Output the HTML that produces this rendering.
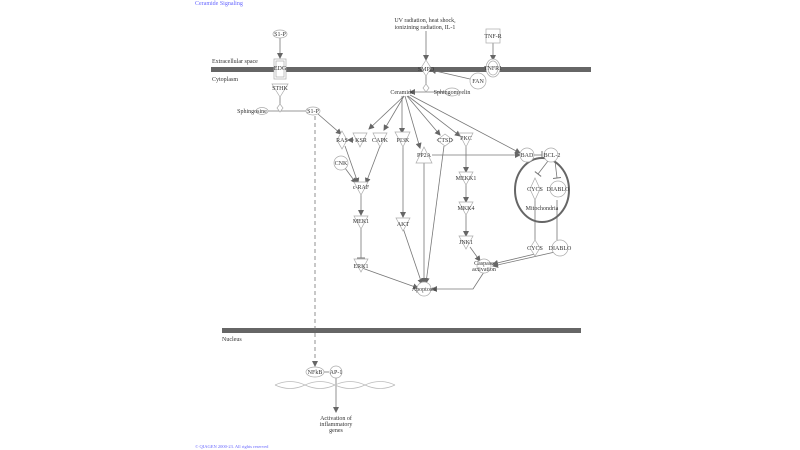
<!DOCTYPE html>
<html><head><meta charset="utf-8"><style>
html,body{margin:0;padding:0;background:#fff;width:800px;height:450px;overflow:hidden}
svg{display:block}
text{font-family:"Liberation Serif",serif;font-size:6px;fill:#333;text-anchor:middle}
</style></head><body>
<svg width="800" height="450" viewBox="0 0 800 450" xmlns="http://www.w3.org/2000/svg">
<defs>
<marker id="a" markerWidth="6" markerHeight="6" refX="5" refY="3" orient="auto" markerUnits="userSpaceOnUse"><path d="M0,0L6,3L0,6z" fill="#666"/></marker>
<marker id="t" markerWidth="2" markerHeight="8" refX="1" refY="4" orient="auto" markerUnits="userSpaceOnUse"><path d="M1,0V8" stroke="#777" stroke-width="1"/></marker>
</defs>
<text x="195" y="5" style="text-anchor:start;fill:#66f;font-size:6px">Ceramide Signaling</text>
<text x="195" y="448" style="text-anchor:start;fill:#66f;font-size:4.5px">© QIAGEN 2000-23. All rights reserved</text>
<rect x="211" y="67" width="380" height="5" fill="#666"/>
<rect x="222" y="328" width="359" height="5" fill="#666"/>
<text x="212" y="63" style="text-anchor:start">Extracellular space</text>
<text x="212" y="81" style="text-anchor:start">Cytoplasm</text>
<text x="222" y="341" style="text-anchor:start">Nucleus</text>
<g stroke="#777" stroke-width="0.8" fill="none">
<line x1="280" y1="38" x2="280" y2="58" marker-end="url(#a)"/>
<line x1="280" y1="95" x2="280" y2="105"/>
<line x1="262" y1="111" x2="306" y2="111"/>
<line x1="318" y1="114" x2="341" y2="134" marker-end="url(#a)"/>
<line x1="315" y1="116" x2="315" y2="366" stroke-dasharray="4,3" marker-end="url(#a)"/>
<line x1="426" y1="31" x2="426" y2="60" marker-end="url(#a)"/>
<line x1="493" y1="43" x2="493" y2="60" marker-end="url(#a)"/>
<line x1="470" y1="79" x2="431" y2="70" marker-end="url(#a)"/>
<line x1="426" y1="76" x2="426" y2="86"/>
<line x1="445" y1="92" x2="410" y2="92" marker-end="url(#a)"/>
<g marker-end="url(#a)">
<line x1="404" y1="96" x2="369" y2="129"/>
<line x1="404" y1="96" x2="384" y2="130"/>
<line x1="402" y1="96" x2="402" y2="133"/>
<line x1="405" y1="96" x2="420" y2="148"/>
<line x1="407" y1="96" x2="440" y2="135"/>
<line x1="408" y1="96" x2="460" y2="136"/>
<line x1="410" y1="95" x2="520" y2="153"/>
<line x1="354" y1="140" x2="348" y2="140"/>
<line x1="345" y1="146" x2="358" y2="183"/>
<line x1="345" y1="168" x2="356" y2="183"/>
<line x1="380" y1="146" x2="366" y2="183"/>
<line x1="361" y1="194" x2="361" y2="215"/>
<line x1="403" y1="146" x2="403" y2="217"/>
<line x1="432" y1="155" x2="520" y2="155"/>
<line x1="466" y1="147" x2="466" y2="172"/>
<line x1="466" y1="183" x2="466" y2="202"/>
<line x1="466" y1="213" x2="466" y2="236"/>
<line x1="470" y1="247" x2="480" y2="261"/>
<line x1="362" y1="268" x2="418" y2="288"/>
<line x1="403" y1="228" x2="422" y2="284"/>
<line x1="424" y1="163" x2="424" y2="283"/>
<line x1="444" y1="146" x2="426" y2="283"/>
<line x1="535" y1="254" x2="493" y2="264"/>
<line x1="555" y1="252" x2="493" y2="266"/>
<line x1="336" y1="378" x2="336" y2="412"/>
</g>
<polyline points="484,272 473,289 432,289" marker-end="url(#a)"/>
<line x1="361" y1="228" x2="361" y2="258" marker-end="url(#t)"/>
<line x1="534" y1="155" x2="542" y2="155" marker-end="url(#t)"/>
<line x1="548" y1="161" x2="538" y2="174" marker-end="url(#t)"/>
<line x1="555" y1="161" x2="557" y2="178" marker-end="url(#t)"/>
<line x1="535" y1="197" x2="535" y2="240"/>
<line x1="557" y1="200" x2="557" y2="240"/>
<line x1="322" y1="372" x2="329" y2="372"/>
</g>
<ellipse cx="542" cy="190" rx="27" ry="32" fill="none" stroke="#666" stroke-width="2"/>
<g stroke="#aaa" stroke-width="0.7" fill="#fff">
<ellipse cx="280" cy="34" rx="7" ry="4"/>
<rect x="274" y="59" width="12" height="20"/><rect x="276" y="61" width="8" height="16"/>
<path d="M272,84H288L280,97z"/>
<path d="M280,104l3,4l-3,4l-3,-4z"/>
<ellipse cx="262" cy="111" rx="6" ry="3.5"/>
<ellipse cx="313" cy="111" rx="7" ry="4"/>
<path d="M426,60l5,8l-5,8l-5,-8z"/>
<path d="M426,84l3,4l-3,4l-3,-4z"/>
<rect x="486" y="29" width="14" height="14"/>
<ellipse cx="493" cy="68" rx="7" ry="9"/><ellipse cx="493" cy="68" rx="5" ry="7"/>
<circle cx="478" cy="81" r="8"/>
<ellipse cx="452" cy="92" rx="7" ry="4"/>
<path d="M342,131l5,9l-5,9l-5,-9z"/>
<path d="M353,133H367L360,147z"/>
<path d="M373,133H387L380,147z"/>
<path d="M395,132H410L403,147z"/>
<path d="M445,134l8,6l-8,6l-8,-6z"/>
<path d="M459,133H473L466,147z"/>
<path d="M424,147L432,163H416z"/>
<circle cx="527" cy="155" r="7"/><circle cx="551" cy="155" r="7"/>
<circle cx="341" cy="163" r="7"/>
<path d="M354,182H368L361,195z"/>
<path d="M354,216H368L361,229z"/>
<path d="M354,259H368L361,272z"/>
<path d="M396,218H410L403,231z"/>
<path d="M459,172H473L466,185z"/>
<path d="M459,202H473L466,215z"/>
<path d="M459,236H473L466,249z"/>
<circle cx="484" cy="266" r="7"/>
<circle cx="424" cy="289" r="7"/>
<path d="M535,178l5,11l-5,11l-5,-11z"/>
<circle cx="558" cy="189" r="8"/>
<path d="M535,240l5,8l-5,8l-5,-8z"/>
<circle cx="560" cy="248" r="8"/>
<ellipse cx="315" cy="372" rx="9" ry="5"/>
<circle cx="336" cy="372" r="6"/>
</g>
<path d="M275,385 Q290,378 305,385 T335,385 T365,385 T395,385 M275,385 Q290,392 305,385 T335,385 T365,385 T395,385" fill="none" stroke="#bbb" stroke-width="0.7"/>
<text x="425" y="22">UV radiation, heat shock,</text>
<text x="425" y="29">ionizining radiation, IL-1</text>
<text x="280" y="36">S1-P</text>
<text x="280" y="70">EDG</text>
<text x="280" y="90">STHK</text>
<text x="252" y="113">Sphingosine</text>
<text x="313" y="113">S1-P</text>
<text x="426" y="71">SMPD</text>
<text x="493" y="38">TNF-R</text>
<text x="493" y="70">TNFR1</text>
<text x="478" y="83">FAN</text>
<text x="402" y="94">Ceramide</text>
<text x="452" y="94">Sphingomyelin</text>
<text x="342" y="142">RAS</text><text x="361" y="142">KSR</text><text x="380" y="142">CAPK</text>
<text x="403" y="142">PI3K</text><text x="445" y="142">CTSD</text><text x="466" y="140">PKC</text>
<text x="424" y="157">PP2A</text><text x="527" y="157">BAD</text><text x="552" y="157">BCL-2</text>
<text x="341" y="165">CNK</text><text x="361" y="189">c-RAF</text><text x="361" y="223">MEK1</text>
<text x="361" y="268">ERK1</text><text x="403" y="226">AKT</text><text x="466" y="180">MEKK1</text>
<text x="466" y="210">MKK4</text><text x="466" y="244">JNK1</text>
<text x="484" y="265">Caspase</text><text x="484" y="271">activation</text>
<text x="424" y="291">Apoptosis</text>
<text x="535" y="191">CYCS</text><text x="558" y="191">DIABLO</text>
<text x="542" y="210">Mitochondria</text>
<text x="535" y="250">CYCS</text><text x="560" y="250">DIABLO</text>
<text x="315" y="374">NFkB</text><text x="336" y="374">AP-1</text>
<text x="336" y="420">Activation of</text><text x="336" y="426">inflammatory</text><text x="336" y="432">genes</text>
</svg>
</body></html>
